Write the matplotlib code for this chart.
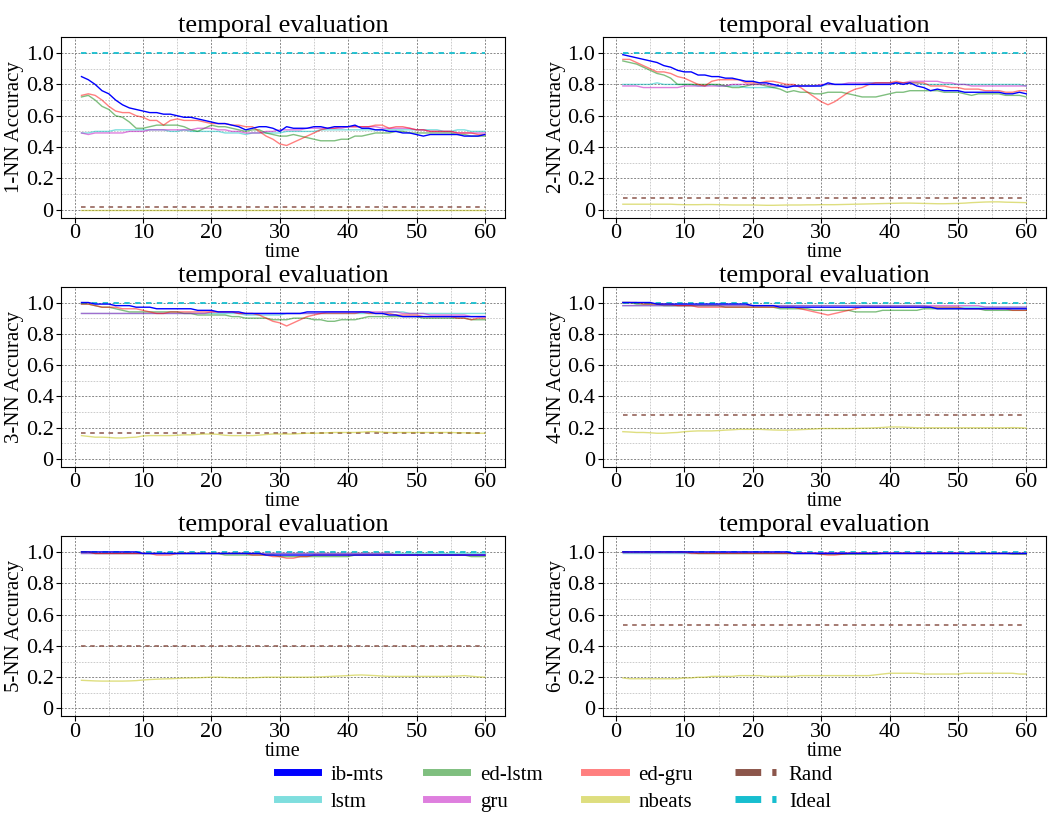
import matplotlib
matplotlib.use("Agg")
import matplotlib.pyplot as plt
from matplotlib.lines import Line2D
from matplotlib.ticker import MultipleLocator, FixedLocator, FixedFormatter

plt.rcParams['font.family'] = ['Liberation Serif', 'DejaVu Serif']

time = list(range(1, 61))

# ---- k = 1 ----
ib_mts_k1 = [0.85, 0.83, 0.80, 0.76, 0.74, 0.70, 0.67, 0.65, 0.64, 0.63,
             0.62, 0.62, 0.61, 0.61, 0.60, 0.59, 0.59, 0.58, 0.57, 0.56,
             0.55, 0.55, 0.54, 0.53, 0.51, 0.52, 0.53, 0.53, 0.52, 0.50,
             0.53, 0.52, 0.52, 0.52, 0.53, 0.53, 0.52, 0.53, 0.53, 0.53,
             0.54, 0.52, 0.52, 0.51, 0.51, 0.50, 0.50, 0.49, 0.49, 0.48,
             0.47, 0.48, 0.48, 0.48, 0.48, 0.48, 0.47, 0.47, 0.47, 0.48]
lstm_k1 = [0.49, 0.49, 0.50, 0.50, 0.50, 0.51, 0.51, 0.51, 0.51, 0.51,
           0.51, 0.51, 0.51, 0.50, 0.50, 0.51, 0.50, 0.50, 0.50, 0.50,
           0.50, 0.49, 0.49, 0.49, 0.48, 0.49, 0.49, 0.49, 0.49, 0.49,
           0.50, 0.50, 0.50, 0.50, 0.50, 0.51, 0.51, 0.51, 0.51, 0.51,
           0.51, 0.51, 0.51, 0.51, 0.51, 0.51, 0.51, 0.51, 0.51, 0.51,
           0.51, 0.51, 0.51, 0.50, 0.50, 0.51, 0.51, 0.50, 0.50, 0.50]
ed_lstm_k1 = [0.72, 0.73, 0.70, 0.66, 0.64, 0.60, 0.59, 0.56, 0.52, 0.52,
              0.53, 0.54, 0.54, 0.54, 0.54, 0.53, 0.51, 0.50, 0.52, 0.54,
              0.53, 0.53, 0.52, 0.51, 0.50, 0.51, 0.51, 0.49, 0.48, 0.47,
              0.47, 0.48, 0.47, 0.46, 0.45, 0.44, 0.44, 0.44, 0.45, 0.45,
              0.47, 0.47, 0.48, 0.49, 0.49, 0.49, 0.50, 0.50, 0.49, 0.49,
              0.49, 0.49, 0.49, 0.49, 0.49, 0.48, 0.48, 0.47, 0.47, 0.47]
gru_k1 = [0.49, 0.48, 0.49, 0.49, 0.49, 0.49, 0.49, 0.50, 0.50, 0.50,
          0.51, 0.51, 0.51, 0.51, 0.51, 0.51, 0.51, 0.52, 0.52, 0.52,
          0.51, 0.51, 0.50, 0.50, 0.49, 0.49, 0.49, 0.50, 0.50, 0.51,
          0.51, 0.51, 0.51, 0.52, 0.52, 0.52, 0.52, 0.52, 0.52, 0.53,
          0.53, 0.53, 0.53, 0.53, 0.52, 0.52, 0.52, 0.52, 0.52, 0.51,
          0.51, 0.50, 0.50, 0.50, 0.50, 0.49, 0.49, 0.49, 0.49, 0.49]
ed_gru_k1 = [0.73, 0.74, 0.73, 0.70, 0.66, 0.63, 0.62, 0.62, 0.60, 0.59,
             0.57, 0.57, 0.54, 0.57, 0.58, 0.57, 0.57, 0.57, 0.56, 0.55,
             0.55, 0.55, 0.54, 0.54, 0.53, 0.53, 0.50, 0.47, 0.45, 0.42,
             0.41, 0.43, 0.45, 0.47, 0.49, 0.51, 0.52, 0.52, 0.53, 0.53,
             0.53, 0.53, 0.53, 0.54, 0.54, 0.52, 0.53, 0.53, 0.52, 0.51,
             0.51, 0.50, 0.50, 0.50, 0.50, 0.49, 0.49, 0.49, 0.48, 0.48]
nbeats_k1 = [0.0, 0.0, 0.0, 0.0, 0.0, 0.0, 0.0, 0.0, 0.0, 0.0,
             0.0, 0.0, 0.0, 0.0, 0.0, 0.0, 0.0, 0.0, 0.0, 0.0,
             0.0, 0.0, 0.0, 0.0, 0.0, 0.0, 0.0, 0.0, 0.0, 0.0,
             0.0, 0.0, 0.0, 0.0, 0.0, 0.0, 0.0, 0.0, 0.0, 0.0,
             0.0, 0.0, 0.0, 0.0, 0.0, 0.0, 0.0, 0.0, 0.0, 0.0,
             0.0, 0.0, 0.0, 0.0, 0.0, 0.0, 0.0, 0.0, 0.0, 0.0]

# ---- k = 2 ----
ib_mts_k2 = [0.99, 0.98, 0.97, 0.96, 0.95, 0.94, 0.92, 0.91, 0.89, 0.88,
             0.88, 0.86, 0.86, 0.85, 0.85, 0.84, 0.84, 0.83, 0.82, 0.82,
             0.81, 0.81, 0.80, 0.79, 0.78, 0.79, 0.79, 0.79, 0.79, 0.79,
             0.81, 0.80, 0.80, 0.80, 0.80, 0.80, 0.80, 0.80, 0.80, 0.80,
             0.81, 0.80, 0.81, 0.79, 0.78, 0.76, 0.77, 0.76, 0.76, 0.76,
             0.75, 0.75, 0.75, 0.75, 0.75, 0.75, 0.74, 0.74, 0.75, 0.74]
lstm_k2 = [0.80, 0.80, 0.80, 0.80, 0.80, 0.81, 0.80, 0.80, 0.80, 0.80,
           0.80, 0.79, 0.79, 0.80, 0.79, 0.79, 0.79, 0.79, 0.78, 0.78,
           0.78, 0.78, 0.78, 0.79, 0.79, 0.79, 0.79, 0.79, 0.79, 0.79,
           0.80, 0.80, 0.80, 0.80, 0.80, 0.80, 0.81, 0.81, 0.81, 0.81,
           0.81, 0.81, 0.81, 0.81, 0.80, 0.80, 0.80, 0.80, 0.80, 0.80,
           0.80, 0.80, 0.80, 0.80, 0.80, 0.80, 0.80, 0.80, 0.80, 0.79]
ed_lstm_k2 = [0.95, 0.94, 0.93, 0.91, 0.89, 0.87, 0.86, 0.84, 0.80, 0.80,
              0.80, 0.80, 0.80, 0.80, 0.80, 0.79, 0.78, 0.78, 0.79, 0.80,
              0.80, 0.79, 0.78, 0.77, 0.75, 0.76, 0.75, 0.75, 0.74, 0.74,
              0.75, 0.75, 0.75, 0.74, 0.73, 0.72, 0.72, 0.72, 0.73, 0.74,
              0.75, 0.75, 0.76, 0.76, 0.76, 0.76, 0.76, 0.75, 0.75, 0.75,
              0.74, 0.73, 0.74, 0.74, 0.74, 0.74, 0.73, 0.73, 0.73, 0.72]
gru_k2 = [0.79, 0.79, 0.79, 0.78, 0.78, 0.78, 0.78, 0.78, 0.78, 0.79,
          0.79, 0.79, 0.79, 0.79, 0.79, 0.79, 0.80, 0.80, 0.80, 0.80,
          0.80, 0.80, 0.79, 0.79, 0.79, 0.79, 0.79, 0.79, 0.79, 0.80,
          0.80, 0.80, 0.80, 0.81, 0.81, 0.81, 0.81, 0.81, 0.81, 0.81,
          0.81, 0.81, 0.82, 0.82, 0.82, 0.82, 0.82, 0.81, 0.81, 0.80,
          0.80, 0.79, 0.79, 0.79, 0.79, 0.79, 0.79, 0.79, 0.79, 0.79]
ed_gru_k2 = [0.96, 0.96, 0.94, 0.92, 0.90, 0.88, 0.88, 0.87, 0.85, 0.84,
             0.82, 0.80, 0.79, 0.82, 0.83, 0.83, 0.83, 0.83, 0.81, 0.81,
             0.81, 0.82, 0.82, 0.81, 0.80, 0.80, 0.78, 0.75, 0.72, 0.69,
             0.67, 0.69, 0.72, 0.75, 0.77, 0.78, 0.80, 0.81, 0.81, 0.81,
             0.82, 0.81, 0.81, 0.81, 0.81, 0.79, 0.79, 0.79, 0.78, 0.78,
             0.77, 0.77, 0.77, 0.76, 0.76, 0.76, 0.75, 0.75, 0.76, 0.76]
nbeats_k2 = [0.035, 0.035, 0.035, 0.035, 0.035, 0.035, 0.035, 0.035, 0.033, 0.032,
             0.032, 0.032, 0.033, 0.033, 0.032, 0.031, 0.030, 0.030, 0.030, 0.030,
             0.029, 0.028, 0.028, 0.029, 0.030, 0.030, 0.030, 0.031, 0.031, 0.032,
             0.032, 0.032, 0.033, 0.034, 0.035, 0.036, 0.037, 0.038, 0.039, 0.040,
             0.041, 0.042, 0.042, 0.041, 0.040, 0.039, 0.038, 0.038, 0.039, 0.040,
             0.042, 0.045, 0.047, 0.049, 0.050, 0.050, 0.048, 0.047, 0.046, 0.045]

# ---- k = 3 ----
ib_mts_k3 = [1.00, 1.00, 0.99, 0.99, 0.99, 0.98, 0.98, 0.98, 0.97, 0.97,
             0.97, 0.96, 0.96, 0.96, 0.96, 0.96, 0.96, 0.95, 0.95, 0.95,
             0.94, 0.94, 0.94, 0.94, 0.93, 0.93, 0.93, 0.93, 0.93, 0.93,
             0.93, 0.93, 0.93, 0.94, 0.94, 0.94, 0.94, 0.94, 0.94, 0.94,
             0.94, 0.94, 0.94, 0.93, 0.93, 0.92, 0.92, 0.91, 0.91, 0.91,
             0.91, 0.91, 0.91, 0.91, 0.91, 0.91, 0.91, 0.91, 0.91, 0.91]
lstm_k3 = [0.93, 0.93, 0.93, 0.93, 0.93, 0.93, 0.93, 0.93, 0.93, 0.93,
           0.93, 0.93, 0.93, 0.93, 0.93, 0.93, 0.93, 0.93, 0.93, 0.93,
           0.93, 0.93, 0.93, 0.93, 0.92, 0.92, 0.92, 0.92, 0.92, 0.92,
           0.93, 0.93, 0.93, 0.93, 0.93, 0.93, 0.93, 0.93, 0.93, 0.93,
           0.93, 0.93, 0.93, 0.93, 0.93, 0.94, 0.94, 0.94, 0.93, 0.93,
           0.93, 0.93, 0.93, 0.93, 0.93, 0.93, 0.93, 0.93, 0.93, 0.93]
ed_lstm_k3 = [0.99, 0.99, 0.98, 0.97, 0.97, 0.96, 0.95, 0.94, 0.94, 0.94,
              0.94, 0.94, 0.94, 0.94, 0.94, 0.93, 0.93, 0.92, 0.92, 0.92,
              0.92, 0.92, 0.91, 0.91, 0.90, 0.90, 0.90, 0.90, 0.89, 0.89,
              0.89, 0.90, 0.90, 0.90, 0.89, 0.89, 0.88, 0.88, 0.89, 0.89,
              0.89, 0.90, 0.91, 0.91, 0.91, 0.91, 0.91, 0.91, 0.91, 0.91,
              0.90, 0.90, 0.90, 0.90, 0.90, 0.90, 0.90, 0.89, 0.89, 0.89]
gru_k3 = [0.93, 0.93, 0.93, 0.93, 0.93, 0.93, 0.93, 0.93, 0.93, 0.93,
          0.93, 0.93, 0.93, 0.93, 0.93, 0.93, 0.93, 0.93, 0.93, 0.94,
          0.94, 0.94, 0.94, 0.93, 0.93, 0.93, 0.93, 0.93, 0.93, 0.93,
          0.93, 0.93, 0.93, 0.93, 0.93, 0.93, 0.94, 0.94, 0.94, 0.94,
          0.94, 0.94, 0.94, 0.94, 0.94, 0.94, 0.94, 0.93, 0.93, 0.93,
          0.93, 0.92, 0.92, 0.92, 0.92, 0.92, 0.92, 0.91, 0.91, 0.91]
ed_gru_k3 = [0.99, 0.99, 0.98, 0.97, 0.97, 0.97, 0.96, 0.96, 0.96, 0.95,
             0.94, 0.93, 0.93, 0.94, 0.94, 0.94, 0.94, 0.94, 0.94, 0.94,
             0.94, 0.94, 0.94, 0.93, 0.93, 0.93, 0.92, 0.90, 0.88, 0.87,
             0.85, 0.87, 0.89, 0.91, 0.92, 0.93, 0.93, 0.93, 0.93, 0.93,
             0.93, 0.94, 0.93, 0.93, 0.93, 0.93, 0.92, 0.92, 0.92, 0.92,
             0.91, 0.91, 0.91, 0.91, 0.91, 0.90, 0.90, 0.89, 0.90, 0.90]
nbeats_k3 = [0.150, 0.145, 0.140, 0.140, 0.138, 0.135, 0.135, 0.138, 0.140, 0.148,
             0.150, 0.150, 0.150, 0.150, 0.152, 0.155, 0.155, 0.158, 0.160, 0.160,
             0.158, 0.152, 0.150, 0.150, 0.150, 0.150, 0.153, 0.157, 0.160, 0.160,
             0.160, 0.160, 0.163, 0.165, 0.165, 0.166, 0.168, 0.170, 0.170, 0.170,
             0.170, 0.172, 0.175, 0.175, 0.172, 0.170, 0.170, 0.170, 0.170, 0.170,
             0.170, 0.170, 0.170, 0.170, 0.170, 0.168, 0.168, 0.166, 0.165, 0.165]

# ---- k = 4 ----
ib_mts_k4 = [1.00, 1.00, 1.00, 1.00, 1.00, 0.99, 0.99, 0.99, 0.99, 0.99,
             0.99, 0.99, 0.99, 0.99, 0.99, 0.99, 0.99, 0.99, 0.99, 0.98,
             0.98, 0.98, 0.98, 0.97, 0.97, 0.97, 0.97, 0.97, 0.97, 0.97,
             0.97, 0.97, 0.97, 0.97, 0.97, 0.97, 0.97, 0.97, 0.97, 0.97,
             0.97, 0.97, 0.97, 0.97, 0.97, 0.97, 0.96, 0.96, 0.96, 0.96,
             0.96, 0.96, 0.96, 0.96, 0.96, 0.96, 0.96, 0.96, 0.96, 0.96]
lstm_k4 = [0.98, 0.98, 0.98, 0.98, 0.98, 0.98, 0.98, 0.98, 0.98, 0.98,
           0.98, 0.98, 0.98, 0.98, 0.98, 0.98, 0.98, 0.98, 0.98, 0.98,
           0.98, 0.98, 0.98, 0.98, 0.98, 0.98, 0.98, 0.98, 0.98, 0.98,
           0.98, 0.98, 0.98, 0.98, 0.98, 0.98, 0.98, 0.98, 0.98, 0.98,
           0.98, 0.98, 0.98, 0.98, 0.98, 0.97, 0.97, 0.97, 0.97, 0.97,
           0.97, 0.97, 0.97, 0.97, 0.97, 0.97, 0.97, 0.97, 0.97, 0.97]
ed_lstm_k4 = [1.00, 1.00, 0.99, 0.99, 0.99, 0.99, 0.98, 0.98, 0.98, 0.98,
              0.98, 0.98, 0.98, 0.98, 0.98, 0.97, 0.97, 0.97, 0.97, 0.97,
              0.97, 0.97, 0.97, 0.96, 0.96, 0.96, 0.96, 0.96, 0.95, 0.95,
              0.95, 0.95, 0.95, 0.95, 0.94, 0.94, 0.94, 0.94, 0.95, 0.95,
              0.95, 0.95, 0.95, 0.95, 0.96, 0.96, 0.96, 0.96, 0.96, 0.96,
              0.96, 0.96, 0.96, 0.95, 0.95, 0.95, 0.95, 0.95, 0.95, 0.95]
gru_k4 = [0.98, 0.98, 0.98, 0.98, 0.98, 0.98, 0.98, 0.98, 0.98, 0.98,
          0.98, 0.98, 0.98, 0.98, 0.98, 0.98, 0.98, 0.98, 0.98, 0.98,
          0.98, 0.98, 0.98, 0.98, 0.98, 0.98, 0.98, 0.98, 0.98, 0.98,
          0.98, 0.98, 0.98, 0.98, 0.98, 0.98, 0.98, 0.98, 0.98, 0.98,
          0.98, 0.98, 0.98, 0.98, 0.98, 0.98, 0.98, 0.98, 0.98, 0.98,
          0.98, 0.98, 0.98, 0.97, 0.97, 0.97, 0.97, 0.97, 0.97, 0.97]
ed_gru_k4 = [1.00, 1.00, 1.00, 0.99, 0.99, 0.99, 0.99, 0.99, 0.98, 0.98,
             0.98, 0.97, 0.97, 0.97, 0.97, 0.97, 0.97, 0.97, 0.97, 0.97,
             0.97, 0.97, 0.97, 0.97, 0.97, 0.97, 0.96, 0.95, 0.94, 0.93,
             0.92, 0.93, 0.94, 0.95, 0.96, 0.97, 0.97, 0.97, 0.97, 0.97,
             0.97, 0.97, 0.97, 0.97, 0.97, 0.97, 0.97, 0.97, 0.97, 0.97,
             0.96, 0.96, 0.96, 0.96, 0.96, 0.96, 0.96, 0.95, 0.95, 0.95]
nbeats_k4 = [0.175, 0.173, 0.170, 0.170, 0.168, 0.165, 0.165, 0.168, 0.170, 0.175,
             0.178, 0.180, 0.180, 0.180, 0.182, 0.185, 0.187, 0.190, 0.190, 0.190,
             0.190, 0.188, 0.186, 0.185, 0.185, 0.186, 0.188, 0.190, 0.192, 0.195,
             0.195, 0.195, 0.195, 0.195, 0.196, 0.197, 0.198, 0.200, 0.202, 0.205,
             0.205, 0.204, 0.202, 0.200, 0.200, 0.200, 0.200, 0.200, 0.200, 0.200,
             0.200, 0.200, 0.200, 0.200, 0.200, 0.200, 0.200, 0.201, 0.200, 0.198]

# ---- k = 5 ----
ib_mts_k5 = [1.00, 1.00, 1.00, 1.00, 1.00, 1.00, 1.00, 1.00, 1.00, 0.99,
             0.99, 0.99, 0.99, 0.99, 0.99, 0.99, 0.99, 0.99, 0.99, 0.99,
             0.99, 0.99, 0.99, 0.99, 0.99, 0.99, 0.99, 0.98, 0.98, 0.98,
             0.98, 0.98, 0.98, 0.98, 0.98, 0.98, 0.98, 0.98, 0.98, 0.98,
             0.98, 0.98, 0.98, 0.98, 0.98, 0.98, 0.98, 0.98, 0.98, 0.98,
             0.98, 0.98, 0.98, 0.98, 0.98, 0.98, 0.98, 0.98, 0.98, 0.98]
lstm_k5 = [0.99, 0.99, 0.99, 0.99, 0.99, 0.99, 0.99, 0.99, 0.99, 0.99,
           0.99, 0.99, 0.99, 0.99, 0.99, 0.99, 0.99, 0.99, 0.99, 0.99,
           0.99, 0.99, 0.99, 0.99, 0.99, 0.99, 0.99, 0.99, 0.99, 0.99,
           0.99, 0.99, 0.99, 0.99, 0.99, 0.99, 0.99, 0.99, 0.99, 0.99,
           0.99, 0.99, 0.99, 0.99, 0.99, 0.99, 0.99, 0.99, 0.99, 0.99,
           0.99, 0.99, 0.99, 0.99, 0.99, 0.99, 0.99, 0.99, 0.99, 0.99]
ed_lstm_k5 = [1.00, 1.00, 0.99, 0.99, 0.99, 0.99, 0.99, 0.99, 0.99, 0.99,
              0.99, 0.99, 0.99, 0.99, 0.99, 0.99, 0.99, 0.99, 0.99, 0.99,
              0.99, 0.98, 0.98, 0.98, 0.98, 0.98, 0.98, 0.98, 0.98, 0.97,
              0.97, 0.97, 0.97, 0.97, 0.97, 0.97, 0.97, 0.97, 0.97, 0.97,
              0.98, 0.98, 0.98, 0.98, 0.98, 0.98, 0.98, 0.98, 0.98, 0.98,
              0.98, 0.98, 0.98, 0.98, 0.98, 0.98, 0.98, 0.97, 0.97, 0.97]
gru_k5 = [0.99, 0.99, 0.99, 0.99, 0.99, 0.99, 0.99, 0.99, 0.99, 0.99,
          0.99, 0.99, 0.99, 0.99, 0.99, 0.99, 0.99, 0.99, 0.99, 0.99,
          0.99, 0.99, 0.99, 0.99, 0.99, 0.99, 0.99, 0.99, 0.99, 0.99,
          0.99, 0.99, 0.99, 0.99, 0.99, 0.99, 0.99, 0.99, 0.99, 0.99,
          0.99, 0.99, 0.99, 0.99, 0.99, 0.99, 0.98, 0.98, 0.98, 0.98,
          0.98, 0.98, 0.98, 0.98, 0.98, 0.98, 0.98, 0.98, 0.98, 0.98]
ed_gru_k5 = [1.00, 1.00, 0.99, 0.99, 0.99, 0.99, 0.99, 0.99, 0.99, 0.99,
             0.99, 0.98, 0.98, 0.98, 0.99, 0.99, 0.99, 0.99, 0.99, 0.99,
             0.99, 0.99, 0.99, 0.99, 0.99, 0.98, 0.98, 0.98, 0.97, 0.97,
             0.96, 0.96, 0.97, 0.97, 0.98, 0.98, 0.98, 0.98, 0.98, 0.98,
             0.98, 0.98, 0.98, 0.98, 0.98, 0.98, 0.98, 0.98, 0.98, 0.98,
             0.98, 0.98, 0.98, 0.98, 0.98, 0.98, 0.98, 0.98, 0.98, 0.98]
nbeats_k5 = [0.180, 0.178, 0.176, 0.175, 0.175, 0.175, 0.175, 0.176, 0.178, 0.182,
             0.185, 0.187, 0.189, 0.190, 0.192, 0.194, 0.195, 0.196, 0.198, 0.200,
             0.200, 0.198, 0.196, 0.195, 0.195, 0.196, 0.198, 0.200, 0.200, 0.200,
             0.200, 0.200, 0.200, 0.200, 0.201, 0.202, 0.204, 0.206, 0.208, 0.210,
             0.213, 0.214, 0.212, 0.210, 0.207, 0.205, 0.205, 0.205, 0.205, 0.205,
             0.205, 0.205, 0.205, 0.205, 0.206, 0.207, 0.210, 0.206, 0.202, 0.200]

# ---- k = 6 ----
ib_mts_k6 = [1.00, 1.00, 1.00, 1.00, 1.00, 1.00, 1.00, 1.00, 1.00, 1.00,
             1.00, 1.00, 1.00, 1.00, 1.00, 1.00, 1.00, 1.00, 1.00, 1.00,
             1.00, 1.00, 1.00, 1.00, 1.00, 0.99, 0.99, 0.99, 0.99, 0.99,
             0.99, 0.99, 0.99, 0.99, 0.99, 0.99, 0.99, 0.99, 0.99, 0.99,
             0.99, 0.99, 0.99, 0.99, 0.99, 0.99, 0.99, 0.99, 0.99, 0.99,
             0.99, 0.99, 0.99, 0.99, 0.99, 0.99, 0.99, 0.99, 0.99, 0.99]
lstm_k6 = [0.995, 0.995, 0.995, 0.995, 0.995, 0.995, 0.995, 0.995, 0.995, 0.995,
           0.995, 0.995, 0.995, 0.995, 0.995, 0.995, 0.995, 0.995, 0.995, 0.995,
           0.995, 0.995, 0.995, 0.995, 0.995, 0.995, 0.995, 0.995, 0.995, 0.995,
           0.995, 0.995, 0.995, 0.995, 0.995, 0.995, 0.995, 0.995, 0.995, 0.995,
           0.995, 0.995, 0.995, 0.995, 0.995, 0.995, 0.995, 0.995, 0.995, 0.995,
           0.995, 0.995, 0.995, 0.995, 0.995, 0.995, 0.995, 0.995, 0.995, 0.995]
ed_lstm_k6 = [1.00, 1.00, 1.00, 1.00, 1.00, 1.00, 1.00, 1.00, 1.00, 1.00,
              1.00, 0.99, 0.99, 0.99, 0.99, 0.99, 0.99, 0.99, 0.99, 0.99,
              0.99, 0.99, 0.99, 0.99, 0.99, 0.99, 0.99, 0.99, 0.99, 0.985,
              0.985, 0.985, 0.985, 0.985, 0.985, 0.985, 0.985, 0.985, 0.99, 0.99,
              0.99, 0.99, 0.99, 0.99, 0.99, 0.99, 0.99, 0.99, 0.99, 0.99,
              0.99, 0.99, 0.99, 0.99, 0.99, 0.99, 0.99, 0.985, 0.985, 0.985]
gru_k6 = [0.995, 0.995, 0.995, 0.995, 0.995, 0.995, 0.995, 0.995, 0.995, 0.995,
          0.995, 0.995, 0.995, 0.995, 0.995, 0.995, 0.995, 0.995, 0.995, 0.995,
          0.995, 0.995, 0.995, 0.995, 0.995, 0.995, 0.995, 0.995, 0.995, 0.995,
          0.995, 0.995, 0.995, 0.995, 0.995, 0.995, 0.995, 0.995, 0.995, 0.995,
          0.995, 0.995, 0.995, 0.995, 0.995, 0.995, 0.995, 0.995, 0.995, 0.995,
          0.99, 0.99, 0.99, 0.99, 0.99, 0.99, 0.99, 0.99, 0.99, 0.99]
ed_gru_k6 = [1.00, 1.00, 1.00, 1.00, 1.00, 1.00, 1.00, 1.00, 1.00, 1.00,
             0.99, 0.99, 0.99, 0.99, 0.99, 0.99, 0.99, 0.99, 0.99, 0.99,
             0.99, 0.99, 0.99, 0.99, 0.99, 0.99, 0.99, 0.99, 0.99, 0.985,
             0.98, 0.98, 0.985, 0.99, 0.99, 0.99, 0.99, 0.99, 0.99, 0.99,
             0.99, 0.99, 0.99, 0.99, 0.99, 0.99, 0.99, 0.99, 0.99, 0.99,
             0.99, 0.99, 0.99, 0.99, 0.99, 0.99, 0.99, 0.99, 0.99, 0.99]
nbeats_k6 = [0.195, 0.190, 0.190, 0.190, 0.190, 0.190, 0.190, 0.190, 0.190, 0.195,
             0.195, 0.200, 0.200, 0.205, 0.205, 0.205, 0.205, 0.210, 0.210, 0.210,
             0.210, 0.205, 0.205, 0.205, 0.205, 0.205, 0.210, 0.210, 0.210, 0.210,
             0.210, 0.210, 0.210, 0.210, 0.210, 0.210, 0.210, 0.215, 0.220, 0.225,
             0.225, 0.225, 0.225, 0.225, 0.220, 0.220, 0.220, 0.220, 0.220, 0.220,
             0.225, 0.225, 0.225, 0.225, 0.225, 0.225, 0.225, 0.225, 0.220, 0.220]

# chance level and perfect score for each k
rand_acc = [0.02, 0.075, 0.165, 0.28, 0.40, 0.535]
ideal_acc = [1.0, 1.0, 1.0, 1.0, 1.0, 1.0]

k_values = [1, 2, 3, 4, 5, 6]
runs = {
    'ib-mts': [ib_mts_k1, ib_mts_k2, ib_mts_k3, ib_mts_k4, ib_mts_k5, ib_mts_k6],
    'lstm': [lstm_k1, lstm_k2, lstm_k3, lstm_k4, lstm_k5, lstm_k6],
    'ed-lstm': [ed_lstm_k1, ed_lstm_k2, ed_lstm_k3, ed_lstm_k4, ed_lstm_k5, ed_lstm_k6],
    'gru': [gru_k1, gru_k2, gru_k3, gru_k4, gru_k5, gru_k6],
    'ed-gru': [ed_gru_k1, ed_gru_k2, ed_gru_k3, ed_gru_k4, ed_gru_k5, ed_gru_k6],
    'nbeats': [nbeats_k1, nbeats_k2, nbeats_k3, nbeats_k4, nbeats_k5, nbeats_k6],
}

# (color, alpha, zorder)
styles = {
    'ib-mts': ('b', 1.0, 5),
    'lstm': ('c', 0.5, 4),
    'ed-lstm': ('g', 0.5, 4),
    'gru': ('m', 0.5, 4),
    'ed-gru': ('r', 0.5, 4),
    'nbeats': ('y', 0.5, 4),
}

fig, axes = plt.subplots(3, 2, figsize=(10.57, 8.14), dpi=100)
fig.subplots_adjust(left=0.058, right=0.99, top=0.954, bottom=0.12,
                    wspace=0.22, hspace=0.385)

for i, ax in enumerate(axes.flat):
    for name, series in runs.items():
        color, alpha, z = styles[name]
        ax.plot(time, series[i], color=color, alpha=alpha, lw=1.0, zorder=z)
    ax.hlines(rand_acc[i], time[0], time[-1], colors='tab:brown',
              linestyles=(0, (3, 3)), lw=1.1, zorder=3)
    ax.hlines(ideal_acc[i], time[0], time[-1], colors='tab:cyan',
              linestyles=(0, (3, 3)), lw=1.3, zorder=3)

    ax.set_ylim(-0.05, 1.1)
    ax.yaxis.set_major_locator(FixedLocator([0, 0.2, 0.4, 0.6, 0.8, 1.0]))
    ax.yaxis.set_major_formatter(FixedFormatter(['0', '0.2', '0.4', '0.6', '0.8', '1.0']))
    ax.yaxis.set_minor_locator(MultipleLocator(0.1))
    ax.xaxis.set_major_locator(MultipleLocator(10))
    ax.xaxis.set_minor_locator(MultipleLocator(5))
    ax.tick_params(which='major', labelsize=16, length=3.5, pad=2)
    ax.tick_params(axis='x', which='major', pad=1)
    ax.tick_params(which='minor', length=0)
    ax.grid(which='major', color='#888888', linestyle=(0, (2, 1.5)), lw=0.7)
    ax.grid(which='minor', color='#c4c4c4', linestyle=(0, (2, 1.5)), lw=0.6)
    ax.set_axisbelow(True)

    ax.set_title('temporal evaluation', fontsize=19, pad=1)
    ax.set_ylabel(f'{k_values[i]}-NN Accuracy', fontsize=15, labelpad=1)
    ax.set_xlabel('time', fontsize=14.5, labelpad=0)

handles = []
labels = []
for name in runs:
    color, alpha, _ = styles[name]
    handles.append(Line2D([], [], color=color, alpha=alpha, lw=5))
    labels.append(name)
handles.append(Line2D([], [], color='tab:brown', lw=5, linestyle='--'))
labels.append('Rand')
handles.append(Line2D([], [], color='tab:cyan', lw=5, linestyle='--'))
labels.append('Ideal')

fig.legend(handles, labels, loc='lower center', bbox_to_anchor=(0.525, -0.02),
           ncol=4, frameon=False, fontsize=15, handlelength=2.0,
           handletextpad=0.6, columnspacing=2.0, labelspacing=0.35)

fig.savefig('out.png', dpi=100)
